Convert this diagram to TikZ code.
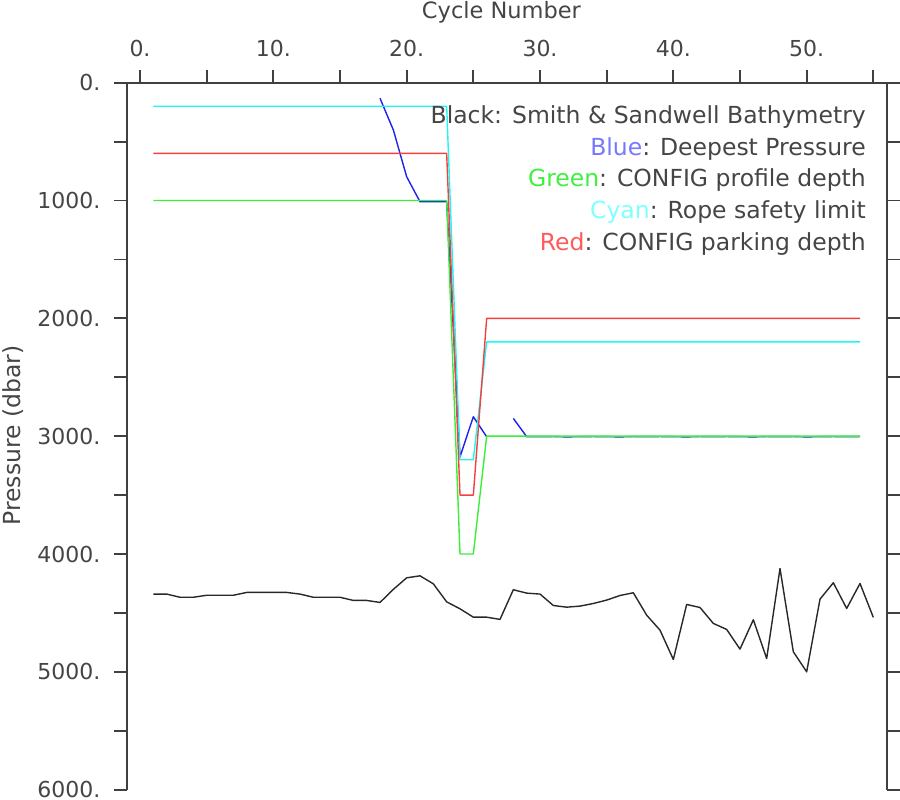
\documentclass[tikz,border=0pt]{standalone}
\usepackage{fontspec}
\setmainfont{DejaVu Sans}
\definecolor{axisgray}{HTML}{404040}
\definecolor{txtgray}{HTML}{454545}
\definecolor{lineblue}{HTML}{2020F0}
\definecolor{linegreen}{HTML}{3AEE3A}
\definecolor{linecyan}{HTML}{20F4F4}
\definecolor{linered}{HTML}{F44040}
\definecolor{lineblack}{HTML}{282828}
\definecolor{labblue}{HTML}{7878FF}
\definecolor{labgreen}{HTML}{40F040}
\definecolor{labcyan}{HTML}{80FFFF}
\definecolor{labred}{HTML}{FF5A5A}
\tikzset{
  axisline/.style={draw=axisgray, line width=1.8pt},
  ticklab/.style={text=txtgray, inner sep=0pt, font=\fontsize{22}{26}\selectfont},
  titlelab/.style={text=txtgray, inner sep=0pt, font=\fontsize{22.5}{27}\selectfont},
  legendlab/.style={text=txtgray, inner sep=0pt, anchor=base east, font=\fontsize{23.5}{28}\selectfont},
  dataline/.style={line width=1.4pt, line join=round},
}
\begin{document}
\begin{tikzpicture}[x=1pt,y=-1pt]
\useasboundingbox (0,0) rectangle (900,800);
% axes
\coordinate (TL) at (126.7,82.7);
\coordinate (TR) at (886.7,82.7);
\coordinate (BL) at (126.7,789.5);
\coordinate (BR) at (886.7,789.5);
\draw[axisline] (TL) -- (BL);
\draw[axisline] (TR) -- (BR);
\draw[axisline] ([xshift=-13pt]TL) -- ([xshift=13pt]TR);
\foreach \p in {500,1000,...,6000}{
  \draw[axisline] (113.7,{82.7+0.117833*\p}) -- (126.7,{82.7+0.117833*\p});
  \draw[axisline] (886.7,{82.7+0.117833*\p}) -- (899.7,{82.7+0.117833*\p});
}
\foreach \c in {0,5,...,55}{
  \draw[axisline] ({140+13.3333*\c},82.7) -- ({140+13.3333*\c},69.7);
}
% tick labels
\foreach \c in {0,10,...,50}{
  \node[ticklab, anchor=base] (xl\c) at ({140+13.3333*\c},56.7) {\c.};
}
\foreach \p in {0,1000,...,6000}{
  \node[ticklab, anchor=east] (yl\p) at (100.5,{82.7+0.117833*\p}) {\p.};
}
\node[titlelab, anchor=base] (xtitle) at (501.5,18.3) {Cycle Number};
\node[titlelab, anchor=base, rotate=90, font=\fontsize{23.5}{28}\selectfont] (ytitle) at (20.7,435.5) {Pressure (dbar)};
% data
\begin{scope}[shift={(140,82.7)}, x=13.3333pt, y=-0.117833pt]
\draw[dataline, draw=lineblack] plot coordinates {
(1,4340) (2,4340) (3,4367) (4,4367) (5,4350) (6,4350) (7,4350) (8,4326) (9,4326) (10,4326)
(11,4326) (12,4340) (13,4367) (14,4367) (15,4367) (16,4394) (17,4394) (18,4411) (19,4300) (20,4202)
(21,4185) (22,4253) (23,4406) (24,4465) (25,4536) (26,4536) (27,4555) (28,4303) (29,4332) (30,4340)
(31,4437) (32,4451) (33,4442) (34,4420) (35,4391) (36,4352) (37,4329) (38,4519) (39,4646) (40,4895)
(41,4428) (42,4454) (43,4589) (44,4640) (45,4807) (46,4558) (47,4887) (48,4123) (49,4830) (50,5000)
(51,4383) (52,4244) (53,4462) (54,4250) (55,4538)};
\draw[dataline, draw=lineblue] plot coordinates {
(18,132) (19,401) (20,798) (21,1010) (22,1010) (23,1010) (24,3175) (25,2835) (26,3005)};
\draw[dataline, draw=lineblue] plot coordinates {
(28,2849) (29,3004) (30,3004) (31,3003) (32,3006) (33,3004) (34,3003) (35,3004) (36,3006) (37,3003)
(38,3004) (39,3003) (40,3004) (41,3006) (42,3003) (43,3004) (44,3003) (45,3004) (46,3006) (47,3003)
(48,3004) (49,3003) (50,3006) (51,3004) (52,3003) (53,3004) (54,3003)};
\draw[dataline, draw=linegreen] plot coordinates {
(1,1000) (23,1000) (24,4000) (25,4000) (26,3000) (54,3000)};
\draw[dataline, draw=linecyan] plot coordinates {
(1,200) (23,200) (24,3200) (25,3200) (26,2200) (54,2200)};
\draw[dataline, draw=linered] plot coordinates {
(1,600) (23,600) (24,3500) (25,3500) (26,2000) (54,2000)};
\end{scope}
% legend
\node[legendlab] (leg1) at (866,123.5) {Black: Smith \& Sandwell Bathymetry};
\node[legendlab] (leg2) at (866,155.2) {\textcolor{labblue}{Blue}: Deepest Pressure};
\node[legendlab] (leg3) at (866,186.9) {\textcolor{labgreen}{Green}: CONFIG profile depth};
\node[legendlab] (leg4) at (866,218.6) {\textcolor{labcyan}{Cyan}: Rope safety limit};
\node[legendlab] (leg5) at (866,250.3) {\textcolor{labred}{Red}: CONFIG parking depth};
\end{tikzpicture}
\end{document}
